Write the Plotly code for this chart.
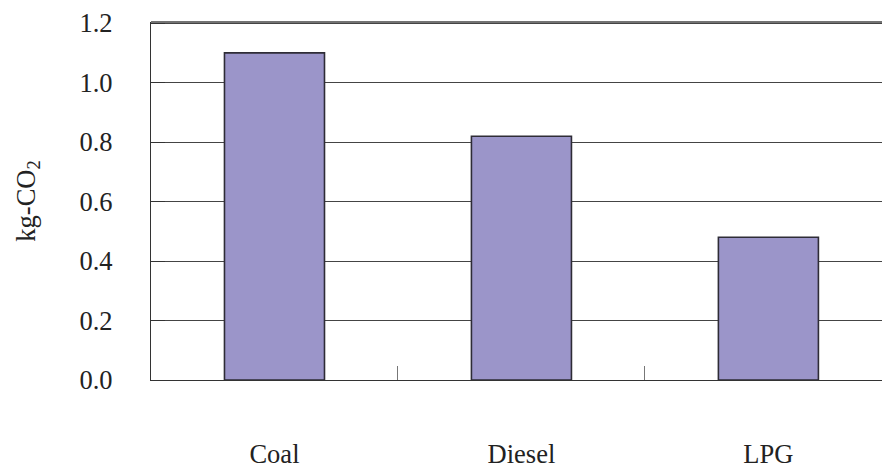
import plotly.graph_objects as go

categories = ["Coal", "Diesel", "LPG"]
values = [1.10, 0.82, 0.48]
y_ticks = [0.0, 0.2, 0.4, 0.6, 0.8, 1.0, 1.2]
y_tick_labels = ["0.0", "0.2", "0.4", "0.6", "0.8", "1.0", "1.2"]

font_family = "Liberation Serif"
font_size = 26.5

fig = go.Figure(
    go.Bar(
        x=categories,
        y=values,
        width=0.405,
        marker=dict(color="#9B95C9", line=dict(color="#2e2c36", width=1.6)),
    )
)

fig.update_layout(
    width=882,
    height=470,
    margin=dict(l=151, r=0, t=22, b=90),
    paper_bgcolor="white",
    plot_bgcolor="white",
    showlegend=False,
    font=dict(family=font_family, size=font_size, color="#222222"),
)

# top border line of the plot frame at the axis maximum
fig.add_shape(type="line", xref="paper", yref="paper", x0=0, x1=1, y0=1, y1=1,
              line=dict(color="#444444", width=1.5), layer="above")

fig.update_xaxes(
    type="category",
    range=[-0.5, 2.46],
    showgrid=False,
    showline=True,
    linecolor="#333333",
    linewidth=1.3,
    ticks="inside",
    tickson="boundaries",
    ticklen=14,
    tickcolor="#777777",
    tickwidth=1,
    ticklabelstandoff=50,
    tickfont=dict(family=font_family, size=font_size, color="#222222"),
)

fig.update_yaxes(
    range=[0, 1.204],
    tickvals=y_ticks,
    ticktext=y_tick_labels,
    showgrid=True,
    gridcolor="#444444",
    gridwidth=1,
    showline=True,
    linecolor="#333333",
    linewidth=1.3,
    ticks="inside",
    ticklen=14,
    tickcolor="#333333",
    ticklabelstandoff=32,
    zeroline=False,
    tickfont=dict(family=font_family, size=font_size, color="#222222"),
    title=dict(text="kg-CO<sub>2</sub>", standoff=36,
               font=dict(family=font_family, size=font_size, color="#222222")),
)

fig.write_html("out.html", config={"displayModeBar": False})
